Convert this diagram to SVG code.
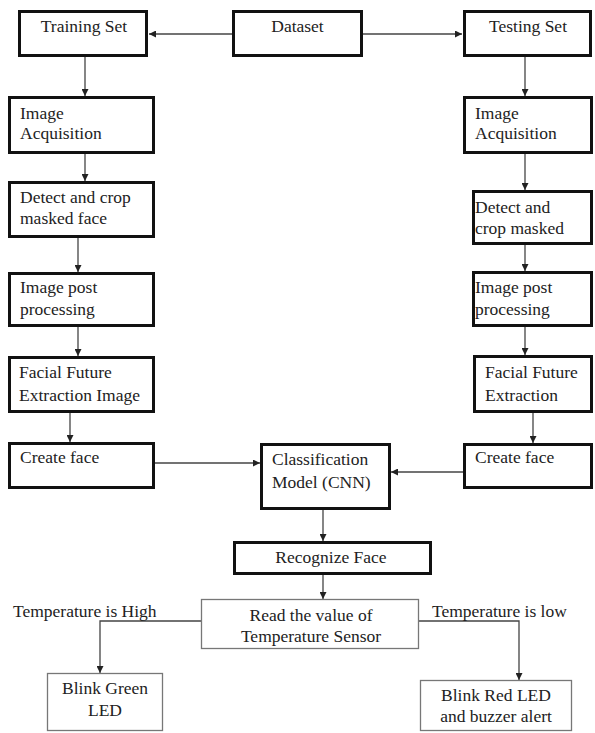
<svg xmlns="http://www.w3.org/2000/svg" width="595" height="733" viewBox="0 0 595 733">
<defs>
<marker id="ah" markerUnits="userSpaceOnUse" markerWidth="7" markerHeight="7" refX="7" refY="3.5" orient="auto">
<path d="M0,0 L7,3.5 L0,7 z" fill="#222"/>
</marker>
<style>
.thick{fill:#fff;stroke:#111;stroke-width:3}
.thin{fill:#fff;stroke:#777;stroke-width:1.3}
text{font-family:"Liberation Serif","Times New Roman",serif;font-size:17.5px;fill:#222}
.c{text-anchor:middle}
.conn{fill:none;stroke:#444;stroke-width:1.3}
</style>
</defs>
<rect width="595" height="733" fill="#fff"/>
<g id="connectors">
<line class="conn" x1="232" y1="34" x2="149" y2="34" marker-end="url(#ah)"/>
<line class="conn" x1="363" y1="34" x2="462" y2="34" marker-end="url(#ah)"/>
<line class="conn" x1="85" y1="57" x2="85" y2="96" marker-end="url(#ah)"/>
<line class="conn" x1="85" y1="154" x2="85" y2="181" marker-end="url(#ah)"/>
<line class="conn" x1="78" y1="238" x2="78" y2="272" marker-end="url(#ah)"/>
<line class="conn" x1="78" y1="327" x2="78" y2="356" marker-end="url(#ah)"/>
<line class="conn" x1="70" y1="413" x2="70" y2="442" marker-end="url(#ah)"/>
<line class="conn" x1="155" y1="463" x2="260" y2="463" marker-end="url(#ah)"/>
<line class="conn" x1="525" y1="57" x2="525" y2="96" marker-end="url(#ah)"/>
<line class="conn" x1="525" y1="154" x2="525" y2="190" marker-end="url(#ah)"/>
<line class="conn" x1="525" y1="245" x2="525" y2="271" marker-end="url(#ah)"/>
<line class="conn" x1="525" y1="327" x2="525" y2="355" marker-end="url(#ah)"/>
<line class="conn" x1="533" y1="413" x2="533" y2="443" marker-end="url(#ah)"/>
<line class="conn" x1="463" y1="472" x2="391" y2="472" marker-end="url(#ah)"/>
<line class="conn" x1="323" y1="510" x2="323" y2="541" marker-end="url(#ah)"/>
<line class="conn" x1="323" y1="575" x2="323" y2="599" marker-end="url(#ah)"/>
<polyline class="conn" points="201,621 100,621 100,673" marker-end="url(#ah)"/>
<polyline class="conn" points="419,621 519,621 519,680" marker-end="url(#ah)"/>
</g>
<g id="training"><rect class="thick" x="19.5" y="11.5" width="127" height="44"/><text class="c" x="84" y="32">Training Set</text></g>
<g id="dataset"><rect class="thick" x="233.5" y="11.5" width="128" height="44"/><text class="c" x="297.5" y="32">Dataset</text></g>
<g id="testing"><rect class="thick" x="464.5" y="11.5" width="126" height="44"/><text class="c" x="528" y="32">Testing Set</text></g>
<g id="l-acq"><rect class="thick" x="9.5" y="97.5" width="144" height="55"/><text x="20" y="119">Image</text><text x="20" y="139">Acquisition</text></g>
<g id="l-detect"><rect class="thick" x="9.5" y="182.5" width="144" height="54"/><text x="20" y="203">Detect and crop</text><text x="20" y="224">masked face</text></g>
<g id="l-post"><rect class="thick" x="9.5" y="273.5" width="144" height="52"/><text x="20" y="293">Image post</text><text x="20" y="315">processing</text></g>
<g id="l-facial"><rect class="thick" x="9.5" y="357.5" width="144" height="54"/><text x="19" y="378">Facial Future</text><text x="19" y="401">Extraction Image</text></g>
<g id="l-create"><rect class="thick" x="9.5" y="443.5" width="144" height="44"/><text x="20" y="463">Create face</text></g>
<g id="r-acq"><rect class="thick" x="464.5" y="97.5" width="127" height="55"/><text x="475" y="119">Image</text><text x="475" y="139">Acquisition</text></g>
<g id="r-detect"><rect class="thick" x="473.5" y="191.5" width="118" height="52"/><text x="475" y="213">Detect and</text><text x="475" y="234">crop masked</text></g>
<g id="r-post"><rect class="thick" x="473.5" y="272.5" width="118" height="53"/><text x="475" y="293">Image post</text><text x="475" y="315">processing</text></g>
<g id="r-facial"><rect class="thick" x="474.5" y="356.5" width="117" height="55"/><text x="485" y="378">Facial Future</text><text x="485" y="401">Extraction</text></g>
<g id="r-create"><rect class="thick" x="464.5" y="444.5" width="127" height="43"/><text x="475" y="463">Create face</text></g>
<g id="classification"><rect class="thick" x="261.5" y="444.5" width="128" height="64"/><text x="272" y="465">Classification</text><text x="272" y="488">Model (CNN)</text></g>
<g id="recognize"><rect class="thick" x="234.5" y="542.5" width="196" height="31"/><text class="c" x="331" y="563">Recognize Face</text></g>
<g id="read"><rect class="thin" x="201.5" y="599.5" width="217" height="49"/><text class="c" x="311" y="621">Read the value of</text><text class="c" x="311" y="642">Temperature Sensor</text></g>
<g id="green"><rect class="thin" x="47.5" y="673.5" width="115" height="57"/><text class="c" x="105" y="694">Blink Green</text><text class="c" x="105" y="716">LED</text></g>
<g id="red"><rect class="thin" x="420.5" y="680.5" width="151" height="50"/><text class="c" x="496" y="701">Blink Red LED</text><text class="c" x="496" y="722">and buzzer alert</text></g>
<g id="labels"><text x="13" y="617">Temperature is High</text><text x="432" y="617">Temperature is low</text></g>
</svg>
